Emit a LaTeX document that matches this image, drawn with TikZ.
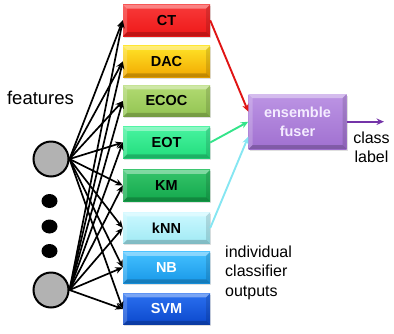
\documentclass[tikz,border=0pt]{standalone}
\usepackage{fontspec}
\setmainfont{Liberation Sans}
\usetikzlibrary{arrows.meta,shadows,shapes.geometric}

\definecolor{ctR}{HTML}{EE1818}
\definecolor{ctRt}{HTML}{F83A3A}
\definecolor{dacT}{HTML}{FFE428}
\definecolor{dacB}{HTML}{F2A800}
\definecolor{ecT}{HTML}{B2DA72}
\definecolor{ecB}{HTML}{92C452}
\definecolor{eoT}{HTML}{48F4A0}
\definecolor{eoB}{HTML}{22DC7C}
\definecolor{kmT}{HTML}{34C46A}
\definecolor{kmB}{HTML}{14A84C}
\definecolor{knT}{HTML}{CCF8FF}
\definecolor{knB}{HTML}{A0EAF4}
\definecolor{nbT}{HTML}{44C0FF}
\definecolor{nbB}{HTML}{1898E8}
\definecolor{svT}{HTML}{2A70F0}
\definecolor{svB}{HTML}{0C48CC}
\definecolor{fuT}{HTML}{BC94E4}
\definecolor{fuB}{HTML}{A070D0}
\definecolor{fuText}{HTML}{F4ECFF}
\definecolor{linkR}{HTML}{E01414}
\definecolor{linkG}{HTML}{34E48A}
\definecolor{linkC}{HTML}{86E6F2}
\definecolor{outP}{HTML}{7434A8}

\tikzset{
  bevel/.style={
    path picture={
      \fill[white,opacity=.38]
        (path picture bounding box.north west) -- (path picture bounding box.north east)
        -- ([shift={(-4pt,-4pt)}]path picture bounding box.north east)
        -- ([shift={(4pt,-4pt)}]path picture bounding box.north west) -- cycle;
      \fill[white,opacity=.2]
        (path picture bounding box.north west) -- (path picture bounding box.south west)
        -- ([shift={(4pt,4pt)}]path picture bounding box.south west)
        -- ([shift={(4pt,-4pt)}]path picture bounding box.north west) -- cycle;
      \fill[black,opacity=.2]
        (path picture bounding box.south west) -- (path picture bounding box.south east)
        -- ([shift={(-4pt,4pt)}]path picture bounding box.south east)
        -- ([shift={(4pt,4pt)}]path picture bounding box.south west) -- cycle;
      \fill[black,opacity=.12]
        (path picture bounding box.north east) -- (path picture bounding box.south east)
        -- ([shift={(-4pt,4pt)}]path picture bounding box.south east)
        -- ([shift={(-4pt,-4pt)}]path picture bounding box.north east) -- cycle;
    }},
  clsbox/.style 2 args={rectangle, inner sep=0pt, minimum width=87pt, minimum height=31.5pt,
    top color=#1, bottom color=#2, bevel,
    drop shadow={opacity=.25, shadow xshift=1pt, shadow yshift=-1.5pt},
    font=\bfseries\fontsize{14.5}{16}\selectfont, text=black},
  feat/.style={circle, draw=black, line width=2pt, fill=black!30, minimum size=35pt, inner sep=0pt},
  dotmark/.style={ellipse, fill=black, minimum width=16pt, minimum height=14pt, inner sep=0pt},
  plain/.style={font=\fontsize{16}{19.5}\selectfont, inner sep=0pt},
  link/.style={line width=1.7pt, -{Stealth[length=7.5pt,width=6.5pt]}},
  fuse/.style={line width=1.9pt, -{Stealth[length=7.5pt,width=6.5pt]}}
}

\begin{document}
\begin{tikzpicture}[x=1pt,y=-1pt]
  \useasboundingbox (0,0) rectangle (394,333);

  % classifier boxes
  \node[clsbox={ctRt}{ctR}] (ct) at (166.5,20.3) {CT};
  \node[clsbox={dacT}{dacB}] (dac) at (166.5,61.5) {DAC};
  \node[clsbox={ecT}{ecB}] (ecoc) at (166.5,101) {ECOC};
  \node[clsbox={eoT}{eoB}] (eot) at (166.5,142.5) {EOT};
  \node[clsbox={kmT}{kmB}] (km) at (166.5,185.5) {KM};
  \node[clsbox={knT}{knB}] (knn) at (166.5,228) {kNN};
  \node[clsbox={nbT}{nbB}, text=white] (nb) at (166.5,267.5) {NB};
  \node[clsbox={svT}{svB}, text=white] (svm) at (166.5,309) {SVM};

  % fuser
  \node[clsbox={fuT}{fuB}, minimum width=98pt, minimum height=55pt, align=center,
        text=fuText, font=\bfseries\fontsize{14.5}{19}\selectfont] (fuser) at (297.5,121.7) {ensemble\\fuser};

  % feature inputs
  \node[feat] (f1) at (51,159) {};
  \node[feat] (f2) at (51,290) {};
  \node[dotmark] (d1) at (49.5,201) {};
  \node[dotmark] (d2) at (49.5,226.5) {};
  \node[dotmark] (d3) at (49.5,251) {};

  % labels
  \node[plain, font=\fontsize{18.5}{22}\selectfont] (lfeat) at (40.5,98) {features};
  \node[plain, align=center] (lclass) at (371.5,147.5) {class\\label};
  \node[plain, align=left, anchor=west] (lind) at (225,272.5) {individual\\classifier\\outputs};

  % features to classifiers
  \foreach \b in {ct,dac,ecoc,eot,km,knn,nb,svm}{
    \draw[link] (f1.east) -- (\b.west);
    \draw[link] (f2.east) -- (\b.west);
  }

  % classifiers to fuser
  \draw[fuse, linkR] (ct.east) -- ([yshift=10pt]fuser.west);
  \draw[fuse, linkG] (eot.east) -- (fuser.west);
  \draw[fuse, linkC] (knn.east) -- ([yshift=-15pt]fuser.west);

  % output
  \coordinate (outend) at (384,121.7);
  \draw[fuse, outP] (fuser.east) -- (outend);
\end{tikzpicture}
\end{document}
